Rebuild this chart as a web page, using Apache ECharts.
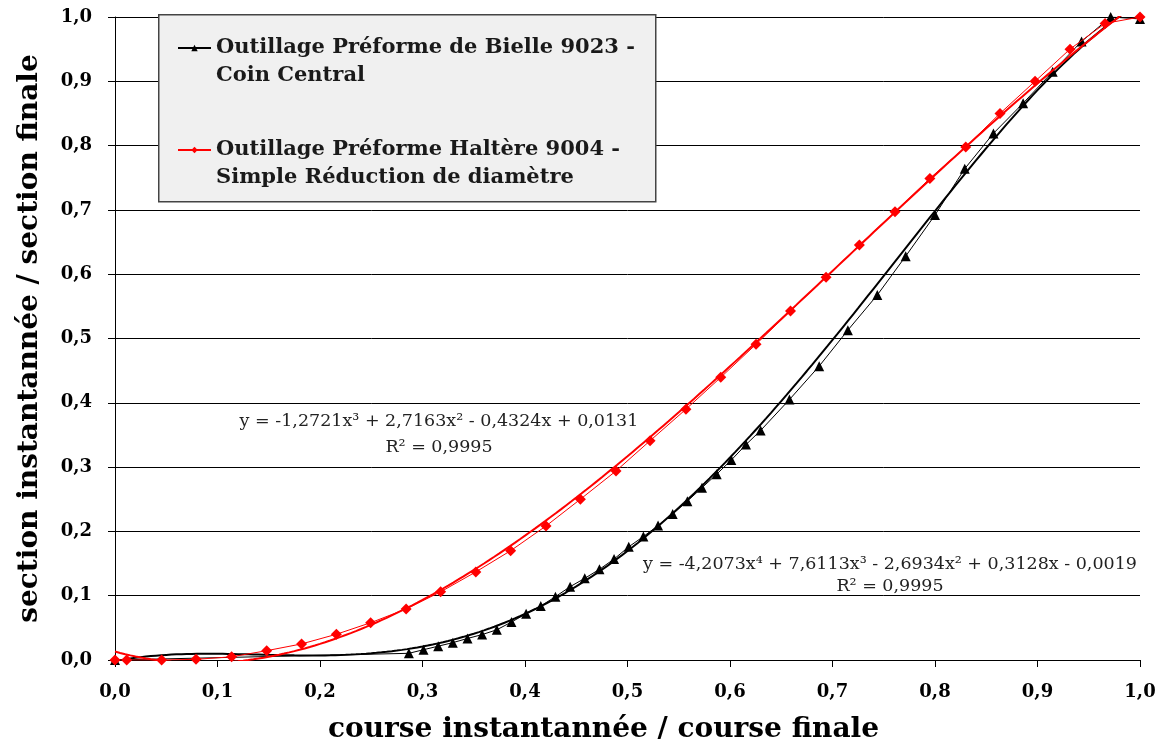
<!DOCTYPE html>
<html>
<head>
<meta charset="utf-8">
<script src="https://cdn.jsdelivr.net/npm/echarts@6/dist/echarts.min.js"></script>
<style>
  html, body { margin: 0; padding: 0; background: #ffffff; }
  #chart { width: 1164px; height: 744px; }
</style>
</head>
<body>
<div id="chart"></div>
<script>
// Measured forming curves: instantaneous stroke / final stroke vs instantaneous section / final section
const bielleX = [0, 0.2867, 0.3010, 0.3153, 0.3296, 0.3439, 0.3582, 0.3725, 0.3868, 0.4011,
  0.4154, 0.4297, 0.4440, 0.4583, 0.4726, 0.4869, 0.5012, 0.5155, 0.5298, 0.5441,
  0.5584, 0.5727, 0.5870, 0.6013, 0.6156, 0.6299, 0.658, 0.687, 0.715, 0.7437,
  0.7714, 0.800, 0.829, 0.857, 0.886, 0.9148, 0.943, 0.9714, 1.0];
const bielleY = [0, 0.0104, 0.016, 0.0215, 0.027, 0.0335, 0.0395, 0.047, 0.059, 0.072,
  0.084, 0.0985, 0.114, 0.127, 0.141, 0.157, 0.176, 0.192, 0.209, 0.227,
  0.247, 0.268, 0.289, 0.311, 0.335, 0.357, 0.405, 0.457, 0.513, 0.5676,
  0.628, 0.692, 0.764, 0.819, 0.866, 0.915, 0.962, 1.0, 0.997];

const haltereX = [0, 0.0114, 0.0455, 0.079, 0.1138, 0.148, 0.182, 0.216, 0.2494, 0.284,
  0.3177, 0.352, 0.386, 0.4205, 0.454, 0.4888, 0.522, 0.557, 0.591, 0.6254,
  0.659, 0.6937, 0.7262, 0.761, 0.795, 0.83, 0.8634, 0.8976, 0.9317, 0.9659, 1.0];
const haltereY = [0, 0, 0, 0.001, 0.005, 0.0145, 0.025, 0.040, 0.058, 0.0793,
  0.106, 0.137, 0.170, 0.2084, 0.250, 0.294, 0.341, 0.390, 0.4396, 0.491,
  0.5428, 0.5952, 0.6454, 0.697, 0.749, 0.798, 0.850, 0.900, 0.950, 0.990, 1.0];

// Polynomial trend coefficients, ascending powers (c0 + c1 x + c2 x^2 + ...)
const bielleTrend = [-0.0019, 0.3128, -2.6934, 7.6113, -4.2073];
const haltereTrend = [0.0131, -0.4324, 2.7163, -1.2721];

const tickLabels = ['0,0', '0,1', '0,2', '0,3', '0,4', '0,5', '0,6', '0,7', '0,8', '0,9', '1,0'];

const nameBielle = 'Outillage Préforme de Bielle 9023 -\nCoin Central';
const nameHaltere = 'Outillage Préforme Haltère 9004 -\nSimple Réduction de diamètre';

const eqHaltere = 'y = -1,2721x³ + 2,7163x² - 0,4324x + 0,0131';
const eqBielle = 'y = -4,2073x⁴ + 7,6113x³ - 2,6934x² + 0,3128x - 0,0019';
const r2Text = 'R² = 0,9995';

function pairs(xs, ys) { return xs.map((x, i) => [x, ys[i]]); }
function polyCurve(coef) {
  const pts = [];
  for (let i = 0; i <= 200; i++) {
    const x = i / 200;
    let y = 0, p = 1;
    for (const c of coef) { y += c * p; p *= x; }
    pts.push([x, y]);
  }
  return pts;
}
const fmt = v => tickLabels[Math.round(v * 10)] || '';

const serif = '"DejaVu Serif", "Liberation Serif", serif';

const chart = echarts.init(document.getElementById('chart'), null, { renderer: 'canvas' });
chart.setOption({
  animation: false,
  backgroundColor: '#ffffff',
  grid: { left: 115, right: 24, top: 17, bottom: 84, containLabel: false, outerBoundsMode: 'none' },
  xAxis: {
    type: 'value', min: 0, max: 1, interval: 0.1,
    name: 'course instantannée / course finale',
    nameLocation: 'middle', nameGap: 56,
    nameTextStyle: { fontFamily: serif, fontWeight: 'bold', fontSize: 28, color: '#000', padding: [0, 48, 0, 0] },
    axisLine: { show: true, lineStyle: { color: '#000', width: 1 } },
    axisTick: { show: true, inside: false, length: 7, lineStyle: { color: '#000' } },
    axisLabel: { formatter: fmt, fontFamily: serif, fontWeight: 'bold', fontSize: 18, color: '#000', margin: 23 },
    splitLine: { show: false }
  },
  yAxis: {
    type: 'value', min: 0, max: 1, interval: 0.1,
    name: 'section instantannée / section finale',
    nameLocation: 'middle', nameGap: 71, nameRotate: 90,
    nameTextStyle: { fontFamily: serif, fontWeight: 'bold', fontSize: 28, color: '#000' },
    axisLine: { show: true, lineStyle: { color: '#000', width: 1 } },
    axisTick: { show: true, inside: false, length: 7, lineStyle: { color: '#000' } },
    axisLabel: { formatter: fmt, fontFamily: serif, fontWeight: 'bold', fontSize: 18, color: '#000', margin: 23 },
    splitLine: { show: true, lineStyle: { color: '#000', width: 1 } }
  },
  legend: {
    left: 177, top: 6, orient: 'vertical', padding: 0, itemGap: 18,
    itemWidth: 33, itemHeight: 8,
    data: [nameBielle, nameHaltere],
    // leading blank line keeps the icon level with the first text line
    formatter: name => '\u200b\n' + name,
    textStyle: { fontFamily: serif, fontWeight: 'bold', fontSize: 21, color: '#1a1a1a', lineHeight: 28 },
    z: 10
  },
  graphic: [
    { type: 'rect', left: 158, top: 14, z: 5, silent: true,
      shape: { width: 497, height: 187 },
      style: { fill: '#f0f0f0', stroke: '#444', lineWidth: 1.5 } },
    { type: 'text', z: 6, silent: true,
      style: { text: eqHaltere + '\n' + r2Text, x: 439, y: 408, align: 'center', verticalAlign: 'top',
        font: '17.5px ' + serif, lineHeight: 26, fill: '#222' } },
    { type: 'text', z: 6, silent: true,
      style: { text: eqBielle + '\n' + r2Text, x: 890, y: 553, align: 'center', verticalAlign: 'top',
        font: '17.5px ' + serif, lineHeight: 22, fill: '#222' } }
  ],
  series: [
    {
      name: nameBielle, type: 'line', data: pairs(bielleX, bielleY),
      symbol: 'triangle', symbolSize: 10, showSymbol: true,
      lineStyle: { color: '#000', width: 1 }, itemStyle: { color: '#000' }, z: 3
    },
    {
      name: 'bielleTrend', type: 'line', data: polyCurve(bielleTrend),
      symbol: 'none', smooth: false, lineStyle: { color: '#000', width: 2 }, z: 2, silent: true
    },
    {
      name: nameHaltere, type: 'line', data: pairs(haltereX, haltereY),
      symbol: 'diamond', symbolSize: 11, showSymbol: true,
      lineStyle: { color: '#ff0000', width: 1 }, itemStyle: { color: '#ff0000' }, z: 5
    },
    {
      name: 'haltereTrend', type: 'line', data: polyCurve(haltereTrend),
      symbol: 'none', smooth: false, lineStyle: { color: '#ff0000', width: 2 }, z: 4, silent: true
    }
  ]
});
</script>
</body>
</html>
